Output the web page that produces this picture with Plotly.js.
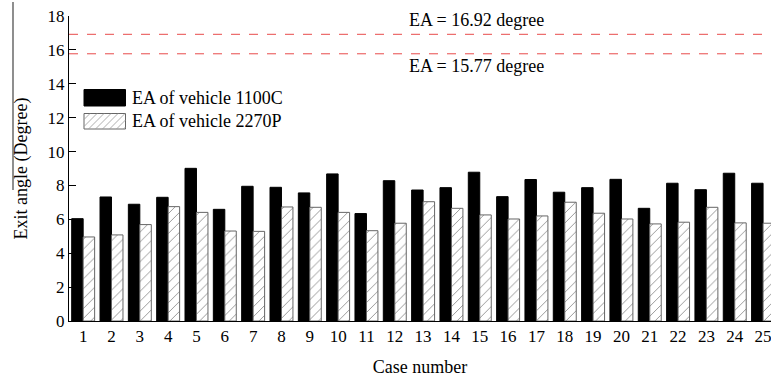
<!DOCTYPE html>
<html>
<head>
<meta charset="utf-8">
<script src="https://cdn.plot.ly/plotly-3.0.1.min.js"></script>
<style>html,body{margin:0;padding:0;background:#fff;}#chart{width:771px;height:378px;}</style>
</head>
<body>
<div id="chart"></div>
<script>
const caseNumbers = [1,2,3,4,5,6,7,8,9,10,11,12,13,14,15,16,17,18,19,20,21,22,23,24,25];
const tickLabels = caseNumbers.map(String);
const ea1100C = [6.04,7.32,6.89,7.30,9.01,6.59,7.95,7.89,7.56,8.68,6.34,8.28,7.73,7.87,8.78,7.34,8.35,7.60,7.87,8.36,6.65,8.13,7.75,8.72,8.13];
const ea2270P = [4.96,5.08,5.69,6.75,6.41,5.31,5.29,6.73,6.71,6.41,5.33,5.77,7.04,6.65,6.26,6.02,6.20,7.01,6.36,6.02,5.73,5.83,6.71,5.79,5.77];
const seriesNames = ["EA of vehicle 1100C", "EA of vehicle 2270P"];
const limitValues = [16.92, 15.77];
const limitLabels = ["EA = 16.92 degree", "EA = 15.77 degree"];

const FONT = '"Liberation Serif", "Times New Roman", Times, serif';
const L = 69, T = 16, W = 702, H = 305;
const px = x => (x - L) / W;
const py = y => (T + H - y) / H;

const traces = [
  {type:'bar', x:caseNumbers, y:ea1100C, name:seriesNames[0],
   marker:{color:'#000', line:{color:'#000', width:1}}, showlegend:false},
  {type:'bar', x:caseNumbers, y:ea2270P, name:seriesNames[1],
   marker:{color:'#fff', line:{color:'#666', width:1},
     pattern:{shape:'/', fgcolor:'#888', bgcolor:'#fff', size:7, solidity:0.12}}, showlegend:false}
];

const shapes = [];
limitValues.forEach(v => shapes.push({type:'line', xref:'paper', yref:'y', x0:0, x1:1, y0:v, y1:v,
  line:{color:'#e84a4a', width:1, dash:'dash'}}));
// legend swatches
shapes.push({type:'rect', xref:'paper', yref:'paper', x0:px(84), x1:px(125.5), y0:py(106), y1:py(89.5),
  fillcolor:'#000', line:{color:'#000', width:1}});
shapes.push({type:'rect', xref:'paper', yref:'paper', x0:px(84), x1:px(125.5), y0:py(129), y1:py(113.5),
  fillcolor:'#fff', line:{color:'#666', width:1}});
// hatch lines in legend swatch
(function(){
  const x0=84, x1=125.5, yt=113.5, yb=129, h=yb-yt;
  for (let s = x0 - h + 6; s < x1; s += 7) {
    let ax = s, ay = yb, bx = s + h, by = yt;
    if (ax < x0) { ay = yb - (x0 - ax); ax = x0; }
    if (bx > x1) { by = yt + (bx - x1); bx = x1; }
    if (bx - ax < 1) continue;
    shapes.push({type:'line', xref:'paper', yref:'paper', x0:px(ax), y0:py(ay), x1:px(bx), y1:py(by),
      line:{color:'#999', width:0.8}});
  }
})();
// stray vertical line at left of the original image
shapes.push({type:'line', xref:'paper', yref:'paper', x0:px(13), x1:px(13), y0:py(190), y1:py(2),
  line:{color:'#444', width:1.2}});

const annotations = [
  {xref:'paper', yref:'paper', x:px(476), y:py(20), text:limitLabels[0], showarrow:false,
   font:{family:FONT, size:18, color:'#000'}, xanchor:'center', yanchor:'middle'},
  {xref:'paper', yref:'paper', x:px(476), y:py(66), text:limitLabels[1], showarrow:false,
   font:{family:FONT, size:18, color:'#000'}, xanchor:'center', yanchor:'middle'},
  {xref:'paper', yref:'paper', x:px(130), y:py(97.5), text:seriesNames[0], showarrow:false,
   font:{family:FONT, size:18, color:'#000'}, xanchor:'left', yanchor:'middle'},
  {xref:'paper', yref:'paper', x:px(130), y:py(121), text:seriesNames[1], showarrow:false,
   font:{family:FONT, size:18, color:'#000'}, xanchor:'left', yanchor:'middle'}
];

const layout = {
  width:771, height:378,
  margin:{l:L, r:0, t:T, b:57, pad:0},
  paper_bgcolor:'#fff', plot_bgcolor:'#fff',
  barmode:'group', bargap:0.19, bargroupgap:0,
  showlegend:false,
  font:{family:FONT, size:16, color:'#000'},
  xaxis:{type:'linear', range:[0.5, 25.28], tickvals:caseNumbers, ticktext:tickLabels,
    showgrid:false, zeroline:false, showline:true, linecolor:'#000', linewidth:1,
    ticks:'', ticklen:0, ticklabeloverflow:'allow', automargin:false,
    tickfont:{family:FONT, size:17, color:'#000'},
    title:{text:'Case number', font:{family:FONT, size:18, color:'#000'}, standoff:14}},
  yaxis:{range:[0,18], dtick:2, showgrid:false, zeroline:false, showline:true, linecolor:'#000', linewidth:1,
    ticks:'inside', ticklen:7, tickcolor:'#000', automargin:false,
    tickfont:{family:FONT, size:17, color:'#000'},
    title:{text:'Exit angle (Degree)', font:{family:FONT, size:18, color:'#000'}, standoff:15}},
  shapes:shapes, annotations:annotations
};

Plotly.newPlot('chart', traces, layout, {displayModeBar:false, staticPlot:true});
</script>
</body>
</html>
